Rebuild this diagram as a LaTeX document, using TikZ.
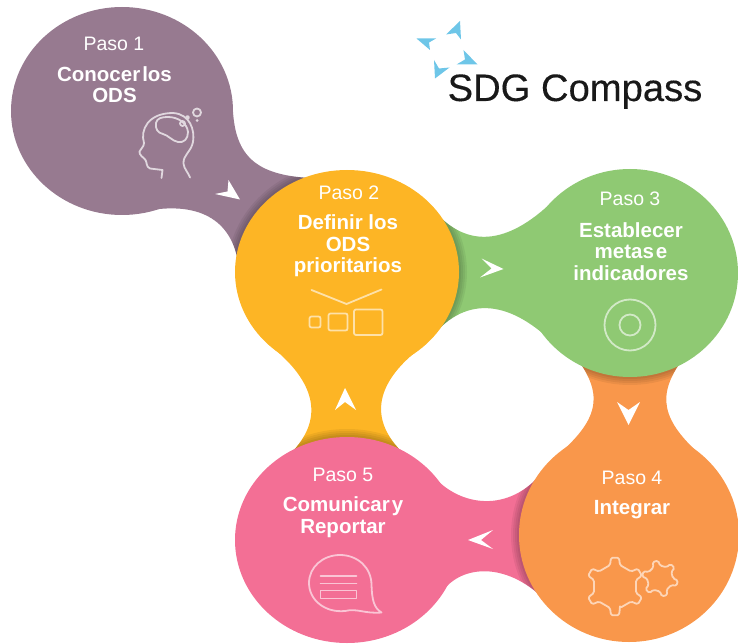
\documentclass[tikz,border=0pt]{standalone}
\usepackage{fontspec}
\setmainfont{Liberation Sans}
\newfontface\logofont[FakeBold=0.25]{Liberation Sans}
\definecolor{morado}{HTML}{977A90}
\definecolor{amarillo}{HTML}{FDB525}
\definecolor{verde}{HTML}{8FC973}
\definecolor{naranja}{HTML}{F9974B}
\definecolor{rosa}{HTML}{F36F95}
\definecolor{celeste}{HTML}{6EC6E8}
\tikzset{
    paso/.style={text=white, font=\fontsize{19.5}{21}\selectfont},
    titulo/.style={text=white, align=center, font=\bfseries\fontsize{20.5}{21.5}\selectfont},
    flecha/.style={fill=white, draw=none},
    icono/.style={draw=#1, line width=1.8pt, line join=round, line cap=round},
    estrella/.style={fill=celeste, draw=none},
}
\newcommand{\junto}[1]{{\spaceskip=2pt #1}}
% #1 colour, #2 outline of the neck, #3 centre and radii of the circle lying over it
\newcommand{\cuello}[5]{
    \fill[#1] #2;
    \begin{scope}
        \clip #2;
        \foreach \d in {2, 4, 6, 8}
            \fill[black, opacity=0.06] #3 ellipse ({#4+\d} and {#5+\d});
    \end{scope}
}
\begin{document}
\begin{tikzpicture}[x=1pt, y=-1pt]
    \useasboundingbox (0, 0) rectangle (738, 644);

    \cuello{morado}{(122, 111) -- (233, 112) .. controls (236, 155) and (255, 175) .. (310, 178) -- (347, 272) -- (238, 262) .. controls (232, 225) and (205, 200) .. (145, 211) -- cycle}{(347, 272)}{112}{102}
    \cuello{verde}{(438, 215) .. controls (470, 248) and (510, 245) .. (558, 196) -- (630, 273) -- (564, 354) .. controls (515, 300) and (470, 295) .. (436, 332) -- cycle}{(347, 272)}{112}{102}
    \cuello{naranja}{(578, 360) .. controls (603, 395) and (600, 420) .. (554, 458) -- (704, 458) .. controls (660, 420) and (657, 395) .. (682, 360) -- cycle}{(630, 273)}{108}{104}
    \cuello{rosa}{(430, 472) .. controls (455, 505) and (505, 515) .. (540, 475) -- (545, 600) .. controls (505, 560) and (458, 565) .. (440, 595) -- cycle}{(629, 535)}{110}{107}
    \cuello{amarillo}{(268, 344) .. controls (303, 371) and (332, 410) .. (292, 452) -- (402, 452) .. controls (360, 410) and (388, 371) .. (426, 344) -- cycle}{(347, 540)}{112}{103}

    \fill[morado] (122, 111) ellipse (111 and 104);
    \fill[amarillo] (347, 272) ellipse (112 and 102);
    \fill[verde] (630, 273) ellipse (108 and 104);
    \fill[naranja] (629, 535) ellipse (110 and 107);
    \fill[rosa] (347, 540) ellipse (112 and 103);

    \node[paso] (p1) at (114, 44) {Paso 1};
    \node[titulo] (t1) at (114.5, 84.5) {\junto{Conocer los}\\ODS};
    \node[paso] (p2) at (349, 193) {Paso 2};
    \node[titulo] (t2) at (348, 246) {Definir los\\ODS\\prioritarios};
    \node[paso] (p3) at (630, 199) {Paso 3};
    \node[titulo] (t3) at (631, 251.5) {Establecer\\\junto{metas e}\\indicadores};
    \node[paso] (p4) at (632, 478) {Paso 4};
    \node[titulo] (t4) at (632, 510) {Integrar};
    \node[paso] (p5) at (343, 475) {Paso 5};
    \node[titulo] (t5) at (343, 517) {\junto{Comunicar y}\\Reportar};

    \fill[flecha] (240, 199.5) -- (215, 194) -- (227.5, 191.5) -- (228.5, 180) -- cycle;
    \fill[flecha] (503.5, 269) -- (481.5, 258.5) -- (491.5, 268.5) -- (480, 277.5) -- cycle;
    \fill[flecha] (628.5, 425) -- (617, 402) -- (628.5, 410) -- (640, 402) -- cycle;
    \fill[flecha] (468, 540) -- (493, 530) -- (481, 540) -- (493, 549) -- cycle;
    \fill[flecha] (345, 388) -- (335, 410) -- (345, 402) -- (356, 410) -- cycle;

    % head
    \draw[icono=morado!30!white] (161.5, 178) -- (162.5, 170) -- (150, 168.5) .. controls (146, 167) and (147, 162) .. (145.5, 160) .. controls (143, 157) and (139, 155) .. (139.5, 151.5) .. controls (141, 148) and (144, 147) .. (144, 143) .. controls (140, 130) and (148, 113) .. (173, 113) .. controls (190, 114) and (195, 130) .. (193, 142) .. controls (191, 152) and (183, 155) .. (183.5, 163.5) .. controls (184, 169) and (188, 172) .. (190, 177.5);
    \draw[icono=morado!30!white] (156, 123) .. controls (157, 118) and (162, 117) .. (168, 117) .. controls (178, 117) and (187, 123) .. (188, 132) .. controls (188, 139) and (184, 143) .. (178, 142) .. controls (172, 141) and (168, 135) .. (163, 134) .. controls (158, 133) and (155, 129) .. (156, 123) -- cycle;
    \draw[icono=morado!30!white] (197, 112.5) circle (4);
    \draw[icono=morado!30!white] (182.5, 123.5) circle (2.5);
    \draw[icono=morado!30!white] (187.5, 117.5) circle (1.5);
    \fill[morado!30!white] (197, 120.5) circle (1.5);

    % chooser and squares
    \draw[icono=amarillo!40!white] (311.5, 290) -- (346.5, 304) -- (381.5, 289.5);
    \draw[icono=amarillo!40!white, rounded corners=2pt] (309.5, 316.5) rectangle (320.5, 327.5);
    \draw[icono=amarillo!40!white, rounded corners=2pt] (328.5, 313.5) rectangle (347.5, 330.5);
    \draw[icono=amarillo!40!white, rounded corners=2pt] (354, 309.5) rectangle (382.5, 335);

    % target
    \draw[icono=verde!40!white] (630, 325) circle (25.5);
    \draw[icono=verde!40!white] (630, 325) circle (10.5);

    % gears
    \begin{scope}[shift={(615, 586.5)}]
        \draw[icono=naranja!40!white, rounded corners=1.5pt] (77:22) \foreach \a in {90, 150, 210, 270, 330, 30} { -- (\a-13:22) -- (\a-8:29) -- (\a+8:29) -- (\a+13:22)} -- cycle;
    \end{scope}
    \begin{scope}[shift={(660, 578.5)}]
        \draw[icono=naranja!40!white, rounded corners=1.5pt] (0:13) \foreach \a in {15, 75, 135, 195, 255, 315} { -- (\a-15:13) -- (\a-9:18) -- (\a+9:18) -- (\a+15:13)} -- cycle;
    \end{scope}

    % speech bubble
    \draw[icono=rosa!40!white] (345, 611) .. controls (325, 613) and (309, 600) .. (309, 583) .. controls (309, 567) and (323, 555) .. (340, 555) .. controls (358, 555) and (371.5, 568) .. (371.5, 585) .. controls (372, 600) and (374, 608) .. (381.5, 612.5) .. controls (365, 614) and (357, 608) .. (345, 611) -- cycle;
    \draw[icono=rosa!40!white] (320.5, 576) -- (356.5, 576);
    \draw[icono=rosa!40!white] (320.5, 583.5) -- (356.5, 583.5);
    \draw[icono=rosa!40!white] (320.5, 590.5) rectangle (356.5, 598.5);

    % logo
    \fill[estrella] (460, 21) -- (446, 34.5) -- (456, 33) -- (461, 39.5) -- cycle;
    \fill[estrella] (416.5, 38.5) -- (436, 38.5) -- (429, 42.5) -- (430, 50) -- cycle;
    \fill[estrella] (477.5, 64.5) -- (456.5, 64.5) -- (465, 59.5) -- (463.5, 50) -- cycle;
    \fill[estrella] (435, 78.5) -- (449.5, 67.5) -- (439, 68.5) -- (434, 60) -- cycle;
    \node[font=\logofont\fontsize{38.2}{40}\selectfont, text=black!90, anchor=base] (logo) at (575, 101) {SDG Compass};
\end{tikzpicture}
\end{document}
